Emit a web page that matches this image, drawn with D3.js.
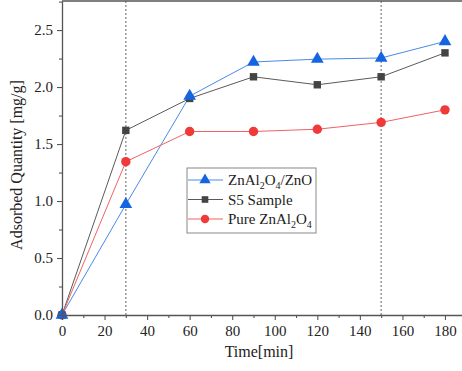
<!DOCTYPE html>
<html>
<head>
<meta charset="utf-8">
<script src="https://cdn.jsdelivr.net/npm/d3@7"></script>
<style>
  body { margin: 0; background: #fff; font-family: 'Liberation Serif', serif; }
  svg text, svg tspan { font-family: 'Liberation Serif', serif !important; }
</style>
</head>
<body>
<div id="chart"></div>
<script>
// Data
const times = [0, 30, 60, 90, 120, 150, 180];
const composite = [0, 0.97, 1.92, 2.22, 2.245, 2.255, 2.40];   // ZnAl2O4/ZnO
const s5Sample = [0, 1.62, 1.90, 2.09, 2.02, 2.09, 2.30];        // S5 Sample
const pureSpinel = [0, 1.345, 1.61, 1.61, 1.63, 1.69, 1.80];    // Pure ZnAl2O4
const xTicks = [0, 20, 40, 60, 80, 100, 120, 140, 160, 180];
const yTicks = [0, 0.5, 1.0, 1.5, 2.0, 2.5];
const markerLines = [30, 150];

const width = 462, height = 371;
const margin = { top: 1, right: 0, bottom: 56, left: 62 };
const innerWidth = width - margin.left - margin.right;
const innerHeight = height - margin.top - margin.bottom;

const svg = d3.select("#chart").append("svg")
  .attr("width", width)
  .attr("height", height);

const g = svg.append("g")
  .attr("transform", `translate(${margin.left}, ${margin.top})`);

const x = d3.scaleLinear().domain([0, 188]).range([0, innerWidth]);
const y = d3.scaleLinear().domain([0, 2.755]).range([innerHeight, 0]);

// dashed guide lines
g.selectAll(".guide")
  .data(markerLines)
  .enter()
  .append("line")
  .attr("x1", d => x(d)).attr("x2", d => x(d))
  .attr("y1", 0).attr("y2", innerHeight)
  .attr("stroke", "#888")
  .attr("stroke-width", 1.3)
  .attr("stroke-dasharray", "2,2");

const series = [
  { name: "composite", values: composite, line: "#4a8ae6", fill: "#1565e0", shape: d3.symbolTriangle, size: 70 },
  { name: "s5", values: s5Sample, line: "#5a5a5a", fill: "#444", shape: d3.symbolSquare, size: 55 },
  { name: "pure", values: pureSpinel, line: "#f06262", fill: "#f03a3a", shape: d3.symbolCircle, size: 70 }
];

const line = d3.line()
  .x(d => x(d[0]))
  .y(d => y(d[1]));

series.forEach(s => {
  const pts = times.map((t, i) => [t, s.values[i]]);
  g.append("path")
    .datum(pts)
    .attr("fill", "none")
    .attr("stroke", s.line)
    .attr("stroke-width", 1)
    .attr("d", line);
});

series.slice().reverse().forEach(s => {
  const pts = times.map((t, i) => [t, s.values[i]]);
  g.selectAll(".m-" + s.name)
    .data(pts)
    .enter()
    .append("path")
    .attr("transform", d => `translate(${x(d[0])}, ${y(d[1])})`)
    .attr("d", d3.symbol().type(s.shape).size(s.size))
    .attr("fill", s.fill);
});

// frame (top edge)
g.append("line").attr("x1", 0).attr("x2", innerWidth).attr("y1", 0).attr("y2", 0)
  .attr("stroke", "#555").attr("stroke-width", 1.3);

// axes
const xAxis = g.append("g")
  .attr("transform", `translate(0, ${innerHeight})`)
  .call(d3.axisBottom(x).tickValues(xTicks).tickSize(5).tickSizeOuter(0).tickPadding(5));
const xMinor = g.append("g")
  .attr("transform", `translate(0, ${innerHeight})`)
  .call(d3.axisBottom(x).tickValues(d3.range(10, 190, 20)).tickSize(3).tickFormat(""));
xMinor.select(".domain").remove();

const yAxis = g.append("g")
  .call(d3.axisLeft(y).tickValues(yTicks).tickFormat(d3.format(".1f")).tickSize(5).tickSizeOuter(0).tickPadding(4));
const yMinor = g.append("g")
  .call(d3.axisLeft(y).tickValues([0.25, 0.75, 1.25, 1.75, 2.25, 2.75]).tickSize(3).tickFormat(""));
yMinor.select(".domain").remove();

[xAxis, yAxis, xMinor, yMinor].forEach(a => a.attr("font-family", null));
[xAxis, yAxis].forEach(a => {
  a.select(".domain").attr("stroke", "#555").attr("stroke-width", 1.3);
  a.selectAll("text")
    .attr("font-size", 15)
    .attr("fill", "#222");
});
svg.selectAll(".tick line").attr("stroke", "#555").attr("stroke-width", 1.1);

// axis titles
svg.append("text")
  .attr("x", 259).attr("y", 357)
  .attr("text-anchor", "middle")
  .attr("font-size", 16)
  .attr("fill", "#222")
  .text("Time[min]");

svg.append("text")
  .attr("transform", "translate(22, 165) rotate(-90)")
  .attr("text-anchor", "middle")
  .attr("font-size", 16)
  .attr("fill", "#222")
  .text("Adsorbed Quantity [mg/g]");

// legend
const legend = svg.append("g").attr("transform", "translate(187, 168)");
legend.append("rect")
  .attr("width", 129).attr("height", 65)
  .attr("fill", "#fff")
  .attr("stroke", "#888")
  .attr("stroke-width", 1);

const legendRows = [
  { s: series[0], label: ["ZnAl", "2", "O", "4", "/ZnO"] },
  { s: series[1], label: ["S5 Sample"] },
  { s: series[2], label: ["Pure ZnAl", "2", "O", "4"] }
];

legendRows.forEach((r, i) => {
  const ry = 12 + i * 19.5;
  legend.append("line")
    .attr("x1", 1).attr("x2", 36).attr("y1", ry).attr("y2", ry)
    .attr("stroke", r.s.line).attr("stroke-width", 1);
  legend.append("path")
    .attr("transform", `translate(18, ${ry})`)
    .attr("d", d3.symbol().type(r.s.shape).size(r.s.size * 0.8))
    .attr("fill", r.s.fill);
  const t = legend.append("text")
    .attr("x", 41).attr("y", ry + 5)
    .attr("font-size", 15)
    .attr("fill", "#222");
  r.label.forEach((part, k) => {
    const sub = r.label.length > 1 && (part === "2" || part === "4");
    t.append("tspan")
      .attr("dy", sub ? 4 : (k > 0 ? -4 : 0))
      .attr("font-size", sub ? 10 : 15)
      .text(part);
  });
});
</script>
</body>
</html>
